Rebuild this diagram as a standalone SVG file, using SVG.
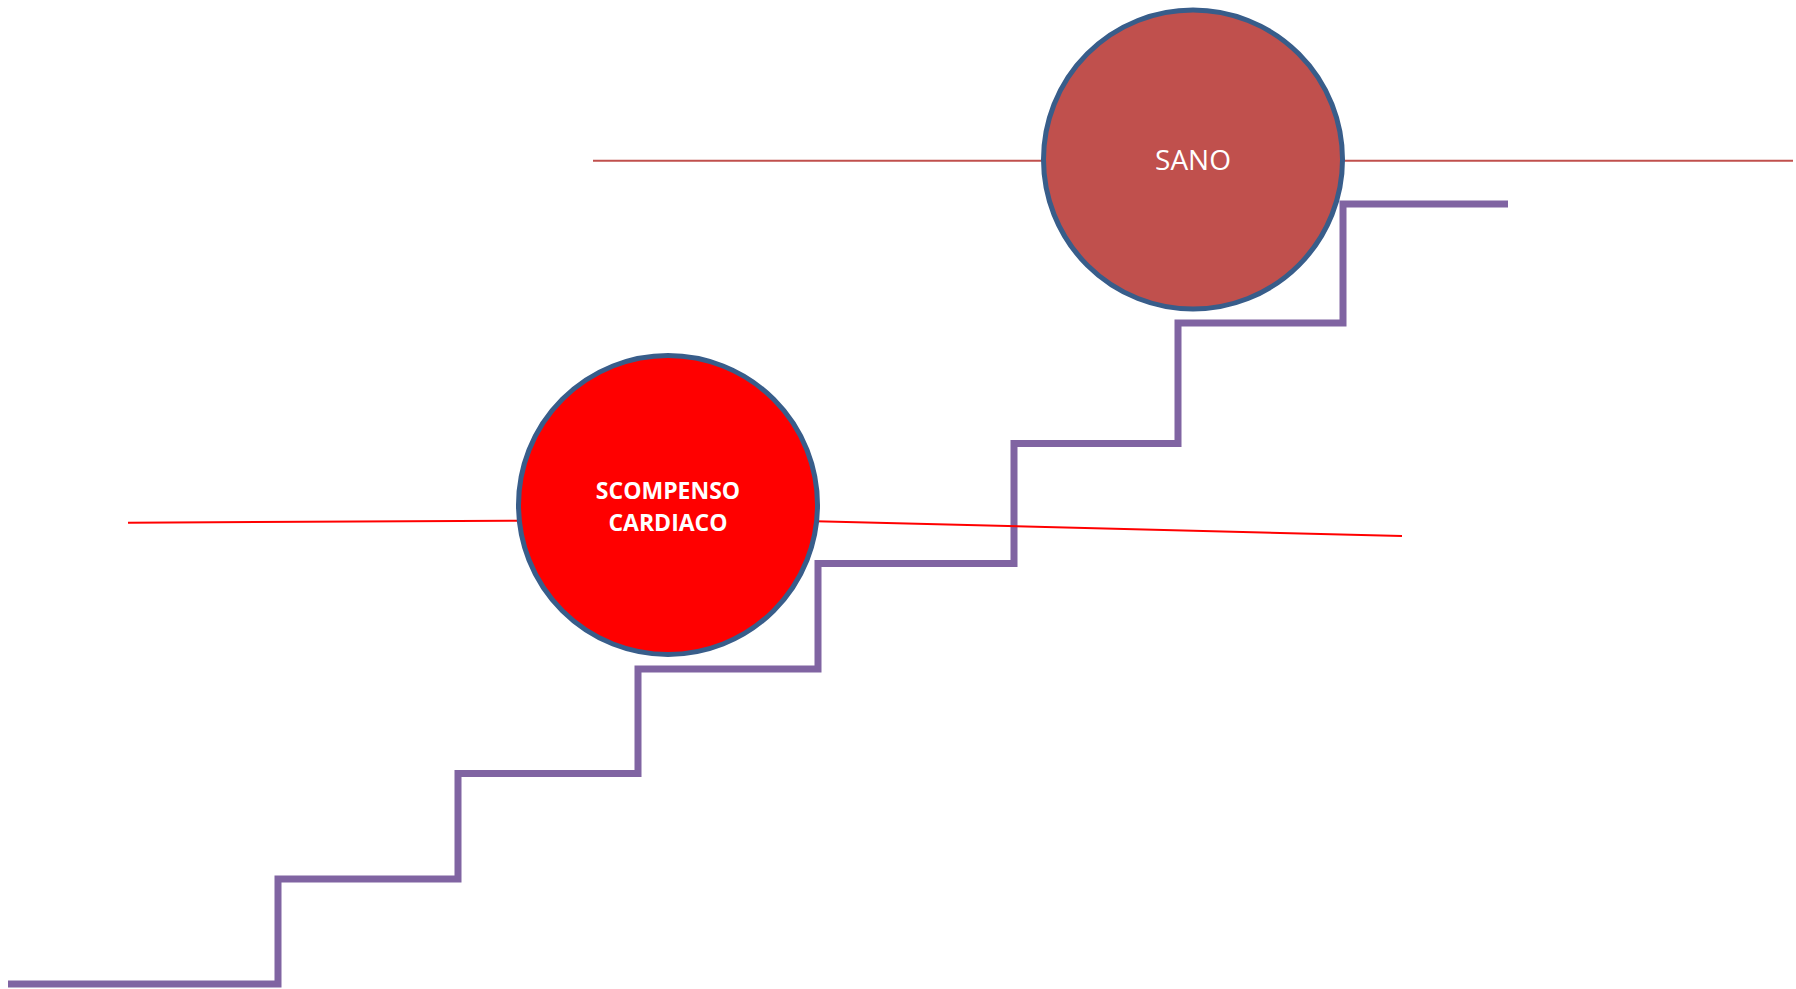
<svg xmlns="http://www.w3.org/2000/svg" width="1796" height="989" viewBox="0 0 1796 989">
  <style>
    .stairs { fill: none; stroke: #8064A2; stroke-width: 7; stroke-linejoin: miter; stroke-linecap: butt; }
    .lvl-dark { stroke: #C0504D; stroke-width: 2; fill: none; }
    .lvl-red { stroke: #FF0000; stroke-width: 2; fill: none; }
    .node-ring { stroke: #385D8A; stroke-width: 5; }
    .label { fill: #FFFFFF; font-family: "Open Sans", "Liberation Sans", sans-serif; text-anchor: middle; }
  </style>
  <rect width="1796" height="989" fill="#FFFFFF"/>

  <g id="connectors">
    <!-- staircase -->
    <polyline class="stairs" points="8,984 278,984 278,879 458,879 458,773.5 638,773.5 638,669 818,669 818,563.5 1014,563.5 1014,443.5 1178,443.5 1178,323 1343,323 1343,204 1508,204"/>
    <!-- level lines through the circles -->
    <line class="lvl-dark" x1="593" y1="160.7" x2="1045" y2="160.7"/>
    <line class="lvl-dark" x1="1341" y1="160.7" x2="1793" y2="160.7"/>
    <line class="lvl-red" x1="128" y1="522.7" x2="518" y2="520.7"/>
    <line class="lvl-red" x1="816" y1="521.3" x2="1402" y2="536"/>
  </g>

  <g id="sano">
    <circle class="node-ring" cx="1193" cy="159.5" r="149.5" fill="#C0504D"/>
    <text class="label" x="1193" y="170" font-size="28">SANO</text>
  </g>

  <g id="scompenso-cardiaco">
    <circle class="node-ring" cx="668" cy="505" r="149.5" fill="#FF0000"/>
    <text class="label" x="668" y="498.5" font-size="23" font-weight="bold">SCOMPENSO</text>
    <text class="label" x="668" y="530.5" font-size="23" font-weight="bold">CARDIACO</text>
  </g>
</svg>
